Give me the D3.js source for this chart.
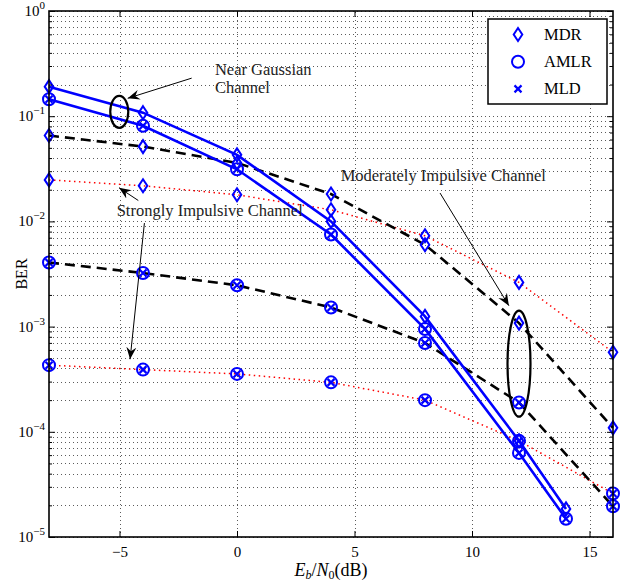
<!DOCTYPE html>
<html>
<head>
<meta charset="utf-8" />
<script src="https://cdn.jsdelivr.net/npm/d3@7"></script>
<style>
  body { margin: 0; background: #fff; }
  svg text { font-family: "Liberation Serif", "DejaVu Serif", serif; fill: #000; }
</style>
</head>
<body>
<svg id="chart" width="626" height="584"></svg>
<script>
// Eb/N0 points (dB)
var snr = [-8, -4, 0, 4, 8, 12, 16];
var snrGauss = [-8, -4, 0, 4, 8, 12, 14];

// BER
var gaussMDR   = [0.191, 0.108, 0.0429, 0.0100, 0.00125, 8.2e-5, 1.85e-5];
var gaussAMLR  = [0.145, 0.081, 0.0313, 0.0075, 9.5e-4, 6.3e-5, 1.49e-5];
var modMDR     = [0.0655, 0.0514, 0.036, 0.0182, 0.0060, 0.00108, 1.09e-4];
var modAMLR    = [0.00407, 0.00323, 0.00247, 0.00152, 6.98e-4, 1.9e-4, 1.96e-5];
var strongMDR  = [0.0248, 0.0218, 0.0179, 0.0129, 0.0073, 0.00263, 5.7e-4];
var strongAMLR = [4.3e-4, 3.9e-4, 3.55e-4, 2.95e-4, 2.0e-4, 8.2e-5, 2.59e-5];

var xTicks = [-5, 0, 5, 10, 15];
var yDecades = [1e-5, 1e-4, 1e-3, 1e-2, 1e-1, 1];
var legendItems = ['MDR', 'AMLR', 'MLD'];

var margin = {left: 49, right: 13, top: 11, bottom: 47},
    W = 626, H = 584;

var x = d3.scaleLinear().domain([-8, 16]).range([margin.left, W - margin.right]);
var y = d3.scaleLog().domain([1e-5, 1]).range([H - margin.bottom, margin.top]);

var svg = d3.select('#chart');
var pw = x.range()[1] - x.range()[0],
    ph = y.range()[0] - y.range()[1];

// minor log positions
var yMinor = [];
yDecades.slice(0, -1).forEach(function(d){
    for (var k = 2; k <= 9; k++) yMinor.push(d * k);
});

// grid
var grid = svg.append('g').attr('class', 'grid');
grid.append('g').attr('transform', 'translate(0,' + y.range()[0] + ')')
    .call(d3.axisBottom(x).tickValues(xTicks).tickSize(-ph).tickFormat(''));
grid.append('g').attr('transform', 'translate(' + x.range()[0] + ',0)')
    .call(d3.axisLeft(y).tickValues(yDecades.concat(yMinor)).tickSize(-pw).tickFormat(''));
grid.selectAll('.domain').remove();
grid.selectAll('line').attr('stroke', '#333').attr('stroke-width', 0.8)
    .attr('stroke-dasharray', '1,3').attr('shape-rendering', 'crispEdges');

// series
var series = [
    {xs: snr, ys: strongMDR,  color: 'red',  dash: '1.5,3.5', width: 1.5, mark: 'diamond'},
    {xs: snr, ys: strongAMLR, color: 'red',  dash: '1.5,3.5', width: 1.5, mark: 'circle'},
    {xs: snr, ys: modMDR,     color: '#000', dash: '10,6',    width: 2.6, mark: 'diamond'},
    {xs: snr, ys: modAMLR,    color: '#000', dash: '10,6',    width: 2.6, mark: 'circle'},
    {xs: snrGauss, ys: gaussMDR,  color: '#0000ff', dash: null, width: 2.6, mark: 'diamond'},
    {xs: snrGauss, ys: gaussAMLR, color: '#0000ff', dash: null, width: 2.6, mark: 'circle'}
];

var line = d3.line().x(function(d){ return x(d[0]); }).y(function(d){ return y(d[1]); });

series.forEach(function(s){
    s.pts = s.xs.map(function(v, i){ return [v, s.ys[i]]; });
    svg.append('path').datum(s.pts).attr('d', line)
        .attr('fill', 'none').attr('stroke', s.color).attr('stroke-width', s.width)
        .attr('stroke-dasharray', s.dash);
});

var diamondPath = 'M0,-6.5L4.3,0L0,6.5L-4.3,0Z';
function drawMarker(g, kind, cx, cy){
    if (kind === 'diamond') {
        g.append('path').attr('d', diamondPath).attr('transform', 'translate(' + cx + ',' + cy + ')')
            .attr('fill', 'none').attr('stroke', '#0000ff').attr('stroke-width', 2);
    } else if (kind === 'circle') {
        g.append('circle').attr('cx', cx).attr('cy', cy).attr('r', 6)
            .attr('fill', 'none').attr('stroke', '#0000ff').attr('stroke-width', 2);
    } else {
        var r = 3.5;
        g.append('path').attr('d', 'M' + (cx - r) + ',' + (cy - r) + 'L' + (cx + r) + ',' + (cy + r) +
                'M' + (cx - r) + ',' + (cy + r) + 'L' + (cx + r) + ',' + (cy - r))
            .attr('stroke', '#0000ff').attr('stroke-width', 2.2);
    }
}

var marks = svg.append('g');
series.forEach(function(s){
    s.pts.forEach(function(p){
        drawMarker(marks, s.mark, x(p[0]), y(p[1]));
        if (s.mark === 'circle') drawMarker(marks, 'x', x(p[0]), y(p[1]));
    });
});

// axes box + inward ticks
function styleAxis(g){
    g.selectAll('.domain').remove();
    g.selectAll('line').attr('stroke', '#000').attr('stroke-width', 1);
    g.selectAll('text').style('font-size', '15px').attr('font-family', null);
}
var xb = svg.append('g').attr('transform', 'translate(0,' + y.range()[0] + ')')
    .call(d3.axisBottom(x).tickValues(xTicks).tickSize(-6).tickPadding(9));
styleAxis(xb);
var xt = svg.append('g').attr('transform', 'translate(0,' + y.range()[1] + ')')
    .call(d3.axisTop(x).tickValues(xTicks).tickSize(-6).tickFormat(''));
styleAxis(xt);

var yl = svg.append('g').attr('transform', 'translate(' + x.range()[0] + ',0)')
    .call(d3.axisLeft(y).tickValues(yDecades).tickSize(-6).tickPadding(4).tickFormat(''));
styleAxis(yl);
yl.selectAll('.tick text').each(function(d){
    var t = d3.select(this).attr('dy', '0.3em');
    var e = Math.round(Math.log10(d));
    t.append('tspan').text('10');
    t.append('tspan').attr('dy', -7).style('font-size', '11px').text(e < 0 ? '\u2212' + (-e) : e);
});
var ylm = svg.append('g').attr('transform', 'translate(' + x.range()[0] + ',0)')
    .call(d3.axisLeft(y).tickValues(yMinor).tickSize(-3).tickFormat(''));
styleAxis(ylm);
var yr = svg.append('g').attr('transform', 'translate(' + x.range()[1] + ',0)')
    .call(d3.axisRight(y).tickValues(yDecades).tickSize(-6).tickFormat(''));
styleAxis(yr);
var yrm = svg.append('g').attr('transform', 'translate(' + x.range()[1] + ',0)')
    .call(d3.axisRight(y).tickValues(yMinor).tickSize(-3).tickFormat(''));
styleAxis(yrm);

svg.append('rect').attr('x', x.range()[0]).attr('y', y.range()[1])
    .attr('width', pw).attr('height', ph)
    .attr('fill', 'none').attr('stroke', '#000').attr('stroke-width', 1.6);

// axis labels
svg.append('text').attr('transform', 'translate(27,' + (margin.top + ph / 2) + ') rotate(-90)')
    .attr('text-anchor', 'middle').style('font-size', '16px').text('BER');

var xl = svg.append('text').attr('x', (x.range()[0] + x.range()[1]) / 2).attr('y', 576)
    .attr('text-anchor', 'middle').style('font-size', '18px');
xl.append('tspan').style('font-style', 'italic').text('E');
xl.append('tspan').attr('dy', 3).style('font-size', '12px').style('font-style', 'italic').text('b');
xl.append('tspan').attr('dy', -3).text('/');
xl.append('tspan').style('font-style', 'italic').text('N');
xl.append('tspan').attr('dy', 3).style('font-size', '12px').text('0');
xl.append('tspan').attr('dy', -3).text('(dB)');

// annotations (data coordinates)
var defs = svg.append('defs');
defs.append('marker').attr('id', 'head').attr('viewBox', '-12 -6 14 12')
    .attr('refX', 0).attr('refY', 0).attr('markerWidth', 14).attr('markerHeight', 12)
    .attr('markerUnits', 'userSpaceOnUse').attr('orient', 'auto')
    .append('path').attr('d', 'M0,0L-12,-5L-8,0L-12,5Z').attr('fill', '#000');

var arrows = [
    [[-1.93, 0.23], [-4.65, 0.148]],
    [[-4.2, 0.0158], [-5.02, 0.0209]],
    [[-3.94, 0.00964], [-4.55, 4.9e-4]],
    [[8.64, 0.0186], [11.57, 0.00158]]
];
arrows.forEach(function(a){
    svg.append('line').attr('x1', x(a[0][0])).attr('y1', y(a[0][1]))
        .attr('x2', x(a[1][0])).attr('y2', y(a[1][1]))
        .attr('stroke', '#000').attr('stroke-width', 1).attr('marker-end', 'url(#head)');
});

var ellipses = [
    {c: [-5.01, 0.11], rx: 9, ry: 16},
    {c: [12.0, 4.44e-4], rx: 11.5, ry: 53}
];
ellipses.forEach(function(e){
    svg.append('ellipse').attr('cx', x(e.c[0])).attr('cy', y(e.c[1]))
        .attr('rx', e.rx).attr('ry', e.ry)
        .attr('fill', 'none').attr('stroke', '#000').attr('stroke-width', 2.2);
});

var notes = [
    {x: -0.94, y: 0.2465, t: 'Near Gaussian'},
    {x: -0.94, y: 0.1645, t: 'Channel'},
    {x: -5.12, y: 0.0113, t: 'Strongly Impulsive Channel'},
    {x: 4.41, y: 0.0243, t: 'Moderately Impulsive Channel'}
];
notes.forEach(function(n){
    svg.append('text').attr('x', x(n.x)).attr('y', y(n.y))
        .style('font-size', '16.5px').style('fill', '#222').text(n.t);
});

// legend
var lg = svg.append('g').attr('transform', 'translate(488,19)');
lg.append('rect').attr('width', 119).attr('height', 85)
    .attr('fill', '#fff').attr('stroke', '#000').attr('stroke-width', 1.5);
legendItems.forEach(function(name, i){
    var cy = 15.5 + i * 27.2;
    drawMarker(lg, ['diamond', 'circle', 'x'][i], 30, cy);
    lg.append('text').attr('x', 56).attr('y', cy + 5.5).style('font-size', '16.5px').text(name);
});
</script>
</body>
</html>
